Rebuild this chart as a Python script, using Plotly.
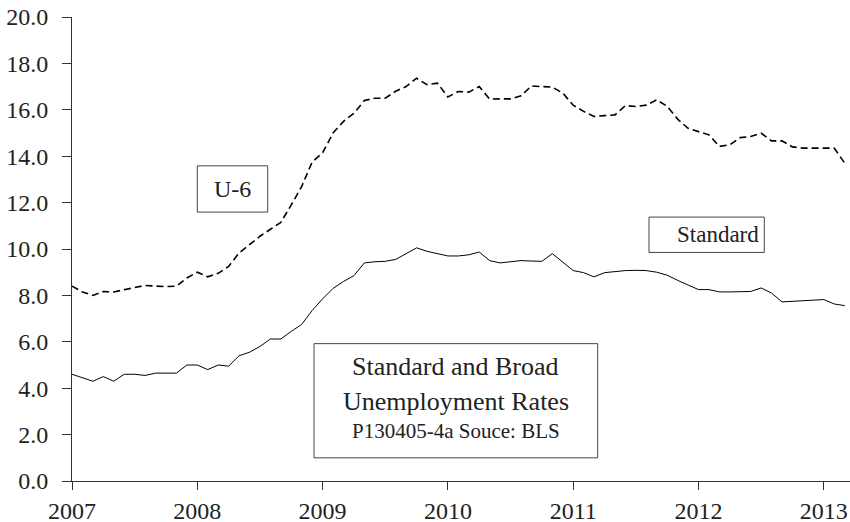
import plotly.graph_objects as go

start_year = 2007
standard = [
    4.6, 4.45, 4.3, 4.5, 4.3, 4.6, 4.6, 4.55, 4.65, 4.65, 4.65, 5.0,
    5.0, 4.8, 5.0, 4.95, 5.4, 5.55, 5.8, 6.12, 6.12, 6.45, 6.75, 7.35,
    7.85, 8.3, 8.6, 8.85, 9.4, 9.45, 9.47, 9.55, 9.8, 10.05, 9.9, 9.8,
    9.7, 9.7, 9.75, 9.87, 9.5, 9.4, 9.45, 9.5, 9.48, 9.47, 9.8, 9.42,
    9.07, 8.98, 8.8, 8.98, 9.03, 9.07, 9.08, 9.07, 9.0, 8.87, 8.65, 8.45,
    8.25, 8.25, 8.15, 8.15, 8.17, 8.17, 8.32, 8.1, 7.72, 7.75, 7.77, 7.8,
    7.82, 7.63, 7.56,
]
u6 = [
    8.4, 8.15, 8.0, 8.17, 8.15, 8.25, 8.35, 8.43, 8.4, 8.38, 8.4, 8.75,
    9.0, 8.8, 8.95, 9.25, 9.83, 10.2, 10.55, 10.85, 11.15, 11.9, 12.7, 13.75,
    14.15, 15.0, 15.5, 15.85, 16.4, 16.5, 16.5, 16.8, 17.0, 17.36, 17.08, 17.15,
    16.55, 16.79, 16.76, 17.0, 16.46, 16.47, 16.47, 16.6, 17.03, 17.0, 16.98, 16.72,
    16.2, 15.93, 15.71, 15.75, 15.78, 16.18, 16.14, 16.2, 16.43, 16.15, 15.6, 15.2,
    15.05, 14.92, 14.42, 14.49, 14.8, 14.85, 14.99, 14.66, 14.66, 14.4, 14.35, 14.35,
    14.35, 14.35, 13.7,
]
x_vals = [start_year + i / 12 for i in range(len(standard))]
year_ticks = [2007, 2008, 2009, 2010, 2011, 2012, 2013]
y_ticks = [0, 2, 4, 6, 8, 10, 12, 14, 16, 18, 20]

FONT = "Liberation Serif"

fig = go.Figure()
fig.add_trace(go.Scatter(x=x_vals, y=u6, mode="lines", name="U-6",
                         line=dict(color="black", width=1.6, dash="7px,4px")))
fig.add_trace(go.Scatter(x=x_vals, y=standard, mode="lines", name="Standard",
                         line=dict(color="black", width=1)))

# plot area in pixels: x 72..850, y 17..481.5
L, R, T, B = 72, 850, 17, 481.5
def px(x):
    return (x - L) / (R - L)
def py(y):
    return (B - y) / (B - T)

box_line = dict(color="#444444", width=1)
boxes = [
    (197.3, 166, 267.7, 212.3),
    (649, 217.3, 764.3, 252.7),
    (314, 344, 597.7, 458.3),
]
for x0, y0, x1, y1 in boxes:
    fig.add_shape(type="rect", xref="paper", yref="paper",
                  x0=px(x0), x1=px(x1), y0=py(y1), y1=py(y0),
                  line=box_line, fillcolor="white", layer="above")

texts = [
    ("U-6", 232.5, 189, 24),
    ("Standard", 717.8, 235, 23),
    ("Standard and Broad", 455.7, 367, 26),
    ("Unemployment Rates", 455.7, 401.5, 26),
    ("P130405-4a Souce: BLS", 455.7, 431.5, 21),
]
for t, x, y, s in texts:
    fig.add_annotation(text=t, xref="paper", yref="paper", x=px(x), y=py(y),
                       xanchor="center", yanchor="middle", showarrow=False,
                       font=dict(family=FONT, size=s, color="#222222"))

fig.update_layout(
    width=850, height=522,
    margin=dict(l=L, r=850 - R, t=T, b=522 - B, autoexpand=False),
    paper_bgcolor="white", plot_bgcolor="white",
    showlegend=False,
    font=dict(family=FONT, size=24, color="#222222"),
)
fig.update_xaxes(range=[2007, 2007 + (R - L) / 125.3], tickvals=year_ticks,
                 ticktext=[str(v) for v in year_ticks],
                 showline=True, linecolor="#333333", linewidth=1,
                 ticks="outside", ticklen=8, tickcolor="#333333",
                 tickfont=dict(family=FONT, size=24, color="#222222"),
                 automargin=False,
                 showgrid=False, zeroline=False)
fig.update_yaxes(range=[0, 20], tickvals=y_ticks, tickformat=".1f",
                 showline=True, linecolor="#333333", linewidth=1,
                 ticks="outside", ticklen=9, tickcolor="#333333",
                 ticklabelstandoff=9,
                 tickfont=dict(family=FONT, size=24, color="#222222"),
                 automargin=False,
                 showgrid=False, zeroline=False)

fig.write_html("out.html",
               config={"displayModeBar": False},
               post_script="document.body.style.margin='0';document.body.style.padding='0';")
